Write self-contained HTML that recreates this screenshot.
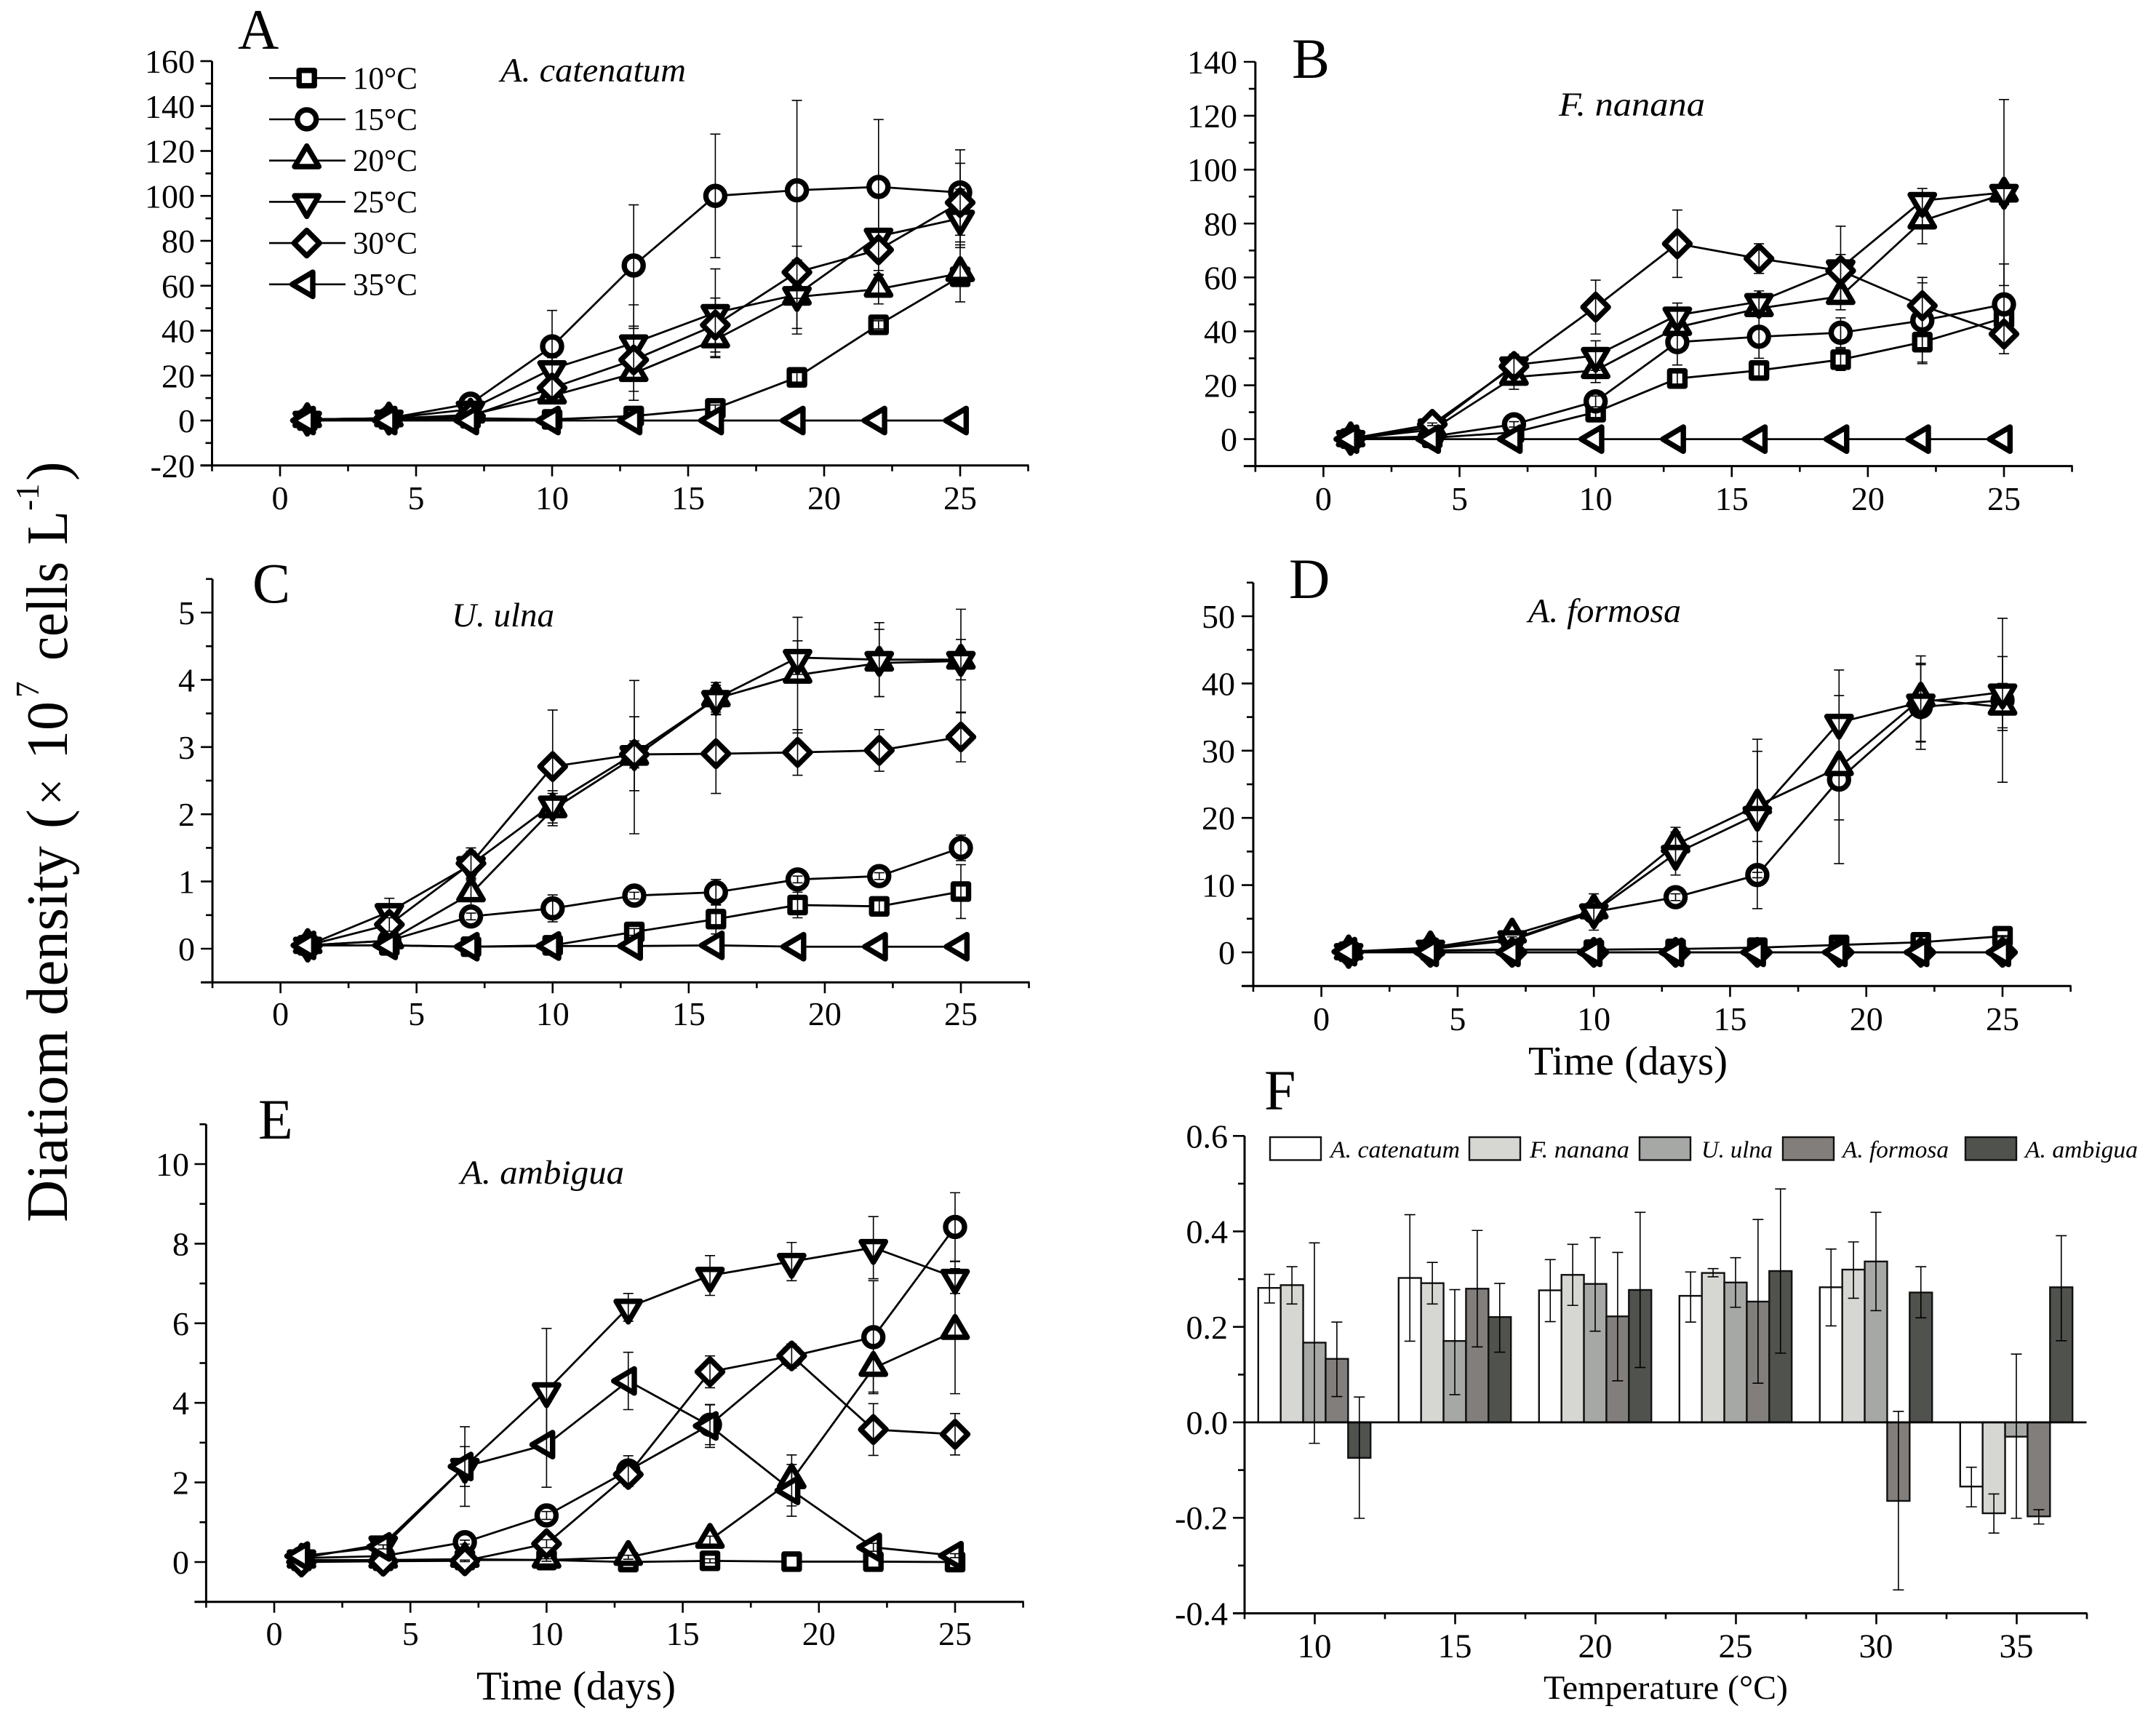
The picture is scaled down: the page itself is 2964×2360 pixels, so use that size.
<!DOCTYPE html>
<html lang="en">
<head>
<meta charset="utf-8">
<title>Diatom density and growth by temperature</title>
<style>
html,body{margin:0;padding:0;background:#fff;width:2964px;height:2360px;overflow:hidden}
svg{display:block;font-family:"Liberation Serif",serif;fill:#000}
text{fill:#000}
</style>
</head>
<body>
<svg id="chart" xmlns="http://www.w3.org/2000/svg" width="2964" height="2360" viewBox="0 0 2964 2360">
  <rect x="0" y="0" width="2964" height="2360" fill="#fff"/>
  <g transform="translate(92,1680) rotate(-90)" font-size="80">
    <text x="0" y="0" textLength="517" lengthAdjust="spacingAndGlyphs">Diatiom density</text>
    <text x="541" y="0">(</text>
    <text x="573" y="0" font-size="66">×</text>
    <text x="636" y="0">10</text>
    <text x="721" y="-39" font-size="45">7</text>
    <text x="772" y="0" textLength="136" lengthAdjust="spacingAndGlyphs">cells</text>
    <text x="931" y="0" textLength="47" lengthAdjust="spacingAndGlyphs">L</text>
    <text x="978" y="-39" font-size="45">-1</text>
    <text x="1019" y="0">)</text>
  </g>
</svg>
<script>
const days = [1, 4, 7, 10, 13, 16, 19, 22, 25];
const temperatureLabels = ['10°C', '15°C', '20°C', '25°C', '30°C', '35°C'];
const xTickLabels = [0, 5, 10, 15, 20, 25];

const yTicksA = [-20, 0, 20, 40, 60, 80, 100, 120, 140, 160];
const a10 = [0, 0.5, 1, 0.5, 2, 5.4, 19.2, 42.6, 64];
const a15 = [0.5, 1, 7.5, 33, 69, 100, 102.5, 104, 101.5];
const a20 = [0.5, 0.8, 2.5, 11, 21, 36, 55, 58.5, 65.5];
const a25 = [0.5, 1, 5, 23, 34.5, 48, 56, 82, 90];
const a30 = [0.5, 1, 2, 14.5, 27, 42.5, 66, 76, 97];
const a35 = [0, 0, 0, 0, 0, 0, 0, 0, 0];
const aErr10 = [0, 0, 0, 1, 1, 1.5, 2.1, 1.8, 2];
const aErr15 = [0, 0, 1, 16, 27, 27.5, 40, 30, 19];
const aErr20 = [0, 0, 0.5, 3, 12, 8, 16.5, 6.6, 12.7];
const aErr25 = [0, 0, 1, 5, 17, 19.5, 15, 17.3, 13];
const aErr30 = [0, 0, 0.5, 4, 14, 12, 11.6, 9.2, 17.5];
const aErr35 = [0, 0, 0, 0, 0, 0, 0, 0, 0];

const yTicksB = [0, 20, 40, 60, 80, 100, 120, 140];
const b10 = [0.2, 0.5, 2.5, 10, 22.5, 25.5, 29.5, 36, 45];
const b15 = [0.2, 1, 5.5, 14, 36, 38, 39.5, 44, 50];
const b20 = [0.2, 3.5, 23, 25.5, 41.5, 48.5, 53, 81, 91];
const b25 = [0.2, 4.5, 27.5, 31, 46, 51, 63.5, 88.5, 91.5];
const b30 = [0.2, 5.5, 27, 49, 72.5, 67, 62.5, 49.5, 39];
const b35 = [0, 0, 0, 0, 0, 0, 0, 0, 0];
const bErr10 = [0, 0, 0.5, 2, 3, 3, 4, 7.4, 2];
const bErr15 = [0, 0.5, 1, 2, 8.5, 8, 5.5, 16, 15];
const bErr20 = [0, 0.5, 4.5, 4.5, 3, 3, 3, 8.5, 4];
const bErr25 = [0, 0.5, 4, 5.5, 4.5, 4, 15.5, 4.5, 34.5];
const bErr30 = [0, 0.5, 3, 10, 12.5, 5.5, 6, 8.5, 7.3];
const bErr35 = [0, 0, 0, 0, 0, 0, 0, 0, 0];

const yTicksC = [0, 1, 2, 3, 4, 5];
const c10 = [0.05, 0.05, 0.03, 0.05, 0.25, 0.44, 0.65, 0.63, 0.85];
const c15 = [0.05, 0.12, 0.48, 0.6, 0.79, 0.84, 1.03, 1.08, 1.5];
const c20 = [0.05, 0.12, 0.82, 2.07, 2.85, 3.72, 4.07, 4.25, 4.28];
const c25 = [0.05, 0.55, 1.25, 2.15, 2.9, 3.72, 4.33, 4.3, 4.3];
const c30 = [0.05, 0.36, 1.27, 2.71, 2.89, 2.9, 2.92, 2.95, 3.15];
const c35 = [0.05, 0.05, 0.03, 0.04, 0.04, 0.05, 0.03, 0.03, 0.03];
const cErr10 = [0, 0, 0.02, 0.03, 0.05, 0.22, 0.19, 0.1, 0.4];
const cErr15 = [0, 0.03, 0.05, 0.2, 0.05, 0.19, 0.05, 0.05, 0.19];
const cErr20 = [0, 0.03, 0.2, 0.24, 1.14, 0.2, 0.86, 0.5, 0.77];
const cErr25 = [0, 0.2, 0.2, 0.2, 0.55, 0.24, 0.25, 0.55, 0.3];
const cErr30 = [0, 0.1, 0.23, 0.84, 0.2, 0.59, 0.34, 0.31, 0.37];
const cErr35 = [0, 0, 0, 0, 0, 0, 0, 0, 0];

const yTicksD = [0, 10, 20, 30, 40, 50];
const d10 = [0.1, 0.3, 0.4, 0.4, 0.5, 0.7, 1.1, 1.5, 2.4];
const d15 = [0.1, 0.5, 1.8, 6, 8.2, 11.5, 25.7, 36.5, 37.5];
const d20 = [0.1, 0.7, 2.6, 6.2, 16, 21.8, 27.5, 37.7, 36.5];
const d25 = [0.1, 0.6, 2, 6, 14.7, 20.5, 34.2, 37.2, 38.7];
const d30 = [0, 0, 0, 0, 0, 0, 0, 0, 0];
const d35 = [0.1, 0, 0, 0, 0, 0, 0, 0, 0];
const dErr10 = [0, 0, 0, 0.1, 0.1, 0.1, 0.1, 0.1, 0.1];
const dErr15 = [0, 0.1, 0.3, 0.5, 0.5, 5, 12.5, 6.3, 12.2];
const dErr20 = [0, 0.1, 0.3, 0.5, 2.6, 9.9, 7.8, 6.4, 3.5];
const dErr25 = [0, 0.1, 0.3, 2.7, 3.2, 9.4, 7.8, 5.8, 5.3];
const dErr30 = [0, 0, 0, 0, 0, 0, 0, 0, 0];
const dErr35 = [0, 0, 0, 0, 0, 0, 0, 0, 0];

const yTicksE = [0, 2, 4, 6, 8, 10];
const e10 = [0.03, 0.03, 0.05, 0.05, 0, 0.03, 0.01, 0.01, 0];
const e15 = [0.1, 0.15, 0.5, 1.17, 2.3, 3.45, 5.17, 5.65, 8.42];
const e20 = [0.05, 0.05, 0.07, 0.05, 0.12, 0.55, 2.05, 4.87, 5.8];
const e25 = [0.1, 0.45, 2.4, 4.3, 6.4, 7.2, 7.55, 7.9, 7.15];
const e30 = [0, 0.02, 0.03, 0.46, 2.2, 4.78, 5.18, 3.33, 3.21];
const e35 = [0.15, 0.38, 2.4, 2.95, 4.55, 3.42, 1.8, 0.37, 0.16];
const eErr10 = [0, 0, 0, 0.2, 0.05, 0.05, 0, 0, 0];
const eErr15 = [0, 0.02, 0.05, 0.1, 0.37, 0.5, 0.3, 1.42, 0.86];
const eErr20 = [0, 0, 0, 0.03, 0.05, 0.1, 0.64, 0.6, 1.57];
const eErr25 = [0, 0.05, 1, 1.57, 0.35, 0.5, 0.48, 0.78, 0.4];
const eErr30 = [0, 0, 0.02, 0.1, 0.3, 0.4, 0.3, 0.65, 0.52];
const eErr35 = [0, 0.05, 0.5, 1.07, 0.72, 0.54, 0.65, 0.1, 0.05];

const barTemperatures = [10, 15, 20, 25, 30, 35];
const barSpecies = ['A. catenatum', 'F. nanana', 'U. ulna', 'A. formosa', 'A. ambigua'];
const yTicksF = ['-0.4', '-0.2', '0.0', '0.2', '0.4', '0.6'];
const catenatumBars = [0.2816, 0.3025, 0.2766, 0.265, 0.283, -0.1345];
const catenatumHigh = [0.31, 0.435, 0.341, 0.315, 0.363, -0.094];
const catenatumLow = [0.25, 0.17, 0.211, 0.21, 0.202, -0.177];
const nananaBars = [0.2875, 0.2916, 0.309, 0.313, 0.32, -0.1905];
const nananaHigh = [0.326, 0.335, 0.373, 0.322, 0.378, -0.15];
const nananaLow = [0.248, 0.248, 0.245, 0.305, 0.26, -0.232];
const ulnaBars = [0.167, 0.1705, 0.29, 0.293, 0.337, -0.03];
const ulnaHigh = [0.376, 0.278, 0.387, 0.345, 0.44, 0.143];
const ulnaLow = [-0.044, 0.058, 0.191, 0.241, 0.234, -0.201];
const formosaBars = [0.133, 0.28, 0.222, 0.253, -0.1646, -0.197];
const formosaHigh = [0.21, 0.402, 0.356, 0.425, 0.023, -0.183];
const formosaLow = [0.054, 0.158, 0.087, 0.082, -0.351, -0.213];
const ambiguaBars = [-0.0744, 0.2206, 0.2774, 0.317, 0.272, 0.283];
const ambiguaHigh = [0.053, 0.291, 0.44, 0.489, 0.326, 0.391];
const ambiguaLow = [-0.201, 0.147, 0.115, 0.145, 0.219, 0.171];

const NS = 'http://www.w3.org/2000/svg';
const root = document.getElementById('chart');

function add(tag, attrs, parent, txt) {
  const node = document.createElementNS(NS, tag);
  for (const k in attrs) node.setAttribute(k, attrs[k]);
  if (txt !== undefined) node.textContent = txt;
  (parent || root).appendChild(node);
  return node;
}

function markerPath(kind) {
  if (kind === 0) return 'M-10.5 -10.5H10.5V10.5H-10.5Z';
  if (kind === 1) return 'M-13 0A13 13 0 1 0 13 0A13 13 0 1 0 -13 0Z';
  if (kind === 2) return 'M0 -20L16.7 8.3H-16.7Z';
  if (kind === 3) return 'M0 20L16.7 -8.3H-16.7Z';
  if (kind === 4) return 'M0 -17.5L17.5 0L0 17.5L-17.5 0Z';
  return 'M-20 0L8.3 -16.7V16.7Z';
}

function drawMarker(kind, cx, cy, scale, parent) {
  return add('path', {
    d: markerPath(kind),
    transform: 'translate(' + cx + ',' + cy + ') scale(' + scale + ')',
    fill: '#fff', stroke: '#000', 'stroke-width': 7.4, 'stroke-linejoin': 'round'
  }, parent);
}

function drawFrame(g, p, yLabels, yMinorStep) {
  const yAxis = add('line', {x1: p.left, x2: p.left, y1: p.py(p.yMin), y2: p.py(p.yMax), stroke: '#000', 'stroke-width': 3}, g);
  
  
  const xAxis = add('line', {x1: p.left - 16, x2: p.right + 1, y1: p.py(p.yMin), y2: p.py(p.yMin), stroke: '#000', 'stroke-width': 3}, g);
  
  
  const count = Math.round((p.yMax - p.yMin) / yMinorStep);
  for (let i = 0; i <= count; i++) {
    const v = p.yMin + i * yMinorStep;
    const isMajor = yLabels.some(function (t) { return Math.abs(Number(t) - v) < 1e-6; });
    const tick = add('line', {x1: p.left - (isMajor ? 16 : 9), x2: p.left, y1: p.py(v), y2: p.py(v), stroke: '#000', 'stroke-width': 2.6}, g);
    
    
  }
  yLabels.forEach(function (t) {
    const label = add('text', {x: p.labelRight, y: p.py(Number(t)) + 16, 'font-size': 46, 'text-anchor': 'end'}, g, String(t));
    
    
  });
}

function drawLinePanel(cfg) {
  const g = add('g', {});
  
  
  const ux = (cfg.x25 - cfg.x0) / 25;
  const px = function (d) { return cfg.x0 + d * ux; };
  const uy = (cfg.yZero - cfg.yTopTick) / cfg.topTickValue;
  const py = function (v) { return cfg.yZero - v * uy; };
  const p = {left: px(-2.5), right: px(27.5), py: py, yMin: cfg.yMin, yMax: cfg.yMax, labelRight: cfg.labelRight};
  drawFrame(g, p, cfg.yTicks, cfg.yMinor);
  for (let i = 0; i <= 12; i++) {
    const d = -2.5 + i * 2.5;
    const major = i % 2 === 1;
    const tick = add('line', {x1: px(d), x2: px(d), y1: py(cfg.yMin), y2: py(cfg.yMin) + (major ? 15 : 8), stroke: '#000', 'stroke-width': 2.6}, g);
    
    
  }
  xTickLabels.forEach(function (t) {
    const label = add('text', {x: px(t), y: cfg.xLabelY, 'font-size': 46, 'text-anchor': 'middle'}, g, String(t));
    
    
  });
  const letter = add('text', {x: cfg.letterX, y: cfg.letterY, 'font-size': 78}, g, cfg.letter);
  
  
  const title = add('text', {x: cfg.titleX, y: cfg.titleY, 'font-size': 47, 'font-style': 'italic', textLength: cfg.titleW, lengthAdjust: 'spacingAndGlyphs'}, g, cfg.title);
  
  

  cfg.values.forEach(function (series, s) {
    const sg = add('g', {}, g);
    
    
    const pts = series.map(function (v, i) { return px(days[i]) + ',' + py(v); }).join(' ');
    const line = add('polyline', {points: pts, fill: 'none', stroke: '#000', 'stroke-width': 2.8}, sg);
    
    
    series.forEach(function (v, i) {
      const mark = drawMarker(s, px(days[i]), py(v), 1, sg);
      
      
    });
    series.forEach(function (v, i) {
      const err = cfg.errors[s][i];
      if (!err) return;
      const x = px(days[i]);
      const d = 'M' + x + ' ' + py(v + err) + 'V' + py(v - err) +
        'M' + (x - 7) + ' ' + py(v + err) + 'H' + (x + 7) +
        'M' + (x - 7) + ' ' + py(v - err) + 'H' + (x + 7);
      const bar = add('path', {d: d, fill: 'none', stroke: '#000', 'stroke-width': 1.6}, sg);
      
      
    });
  });
  return g;
}

drawLinePanel({id: 'a', letter: 'A', letterX: 327, letterY: 67, title: 'A. catenatum', titleX: 688, titleY: 112, titleW: 255,
  x0: 385, x25: 1320, yZero: 578, yTopTick: 84, topTickValue: 160, yMin: -20, yMax: 160, yMinor: 10, yTicks: yTicksA, labelRight: 268, xLabelY: 700,
  values: [a10, a15, a20, a25, a30, a35], errors: [aErr10, aErr15, aErr20, aErr25, aErr30, aErr35]});
drawLinePanel({id: 'b', letter: 'B', letterX: 1776, letterY: 107, title: 'F. nanana', titleX: 2143, titleY: 159, titleW: 201,
  x0: 1819.4, x25: 2755, yZero: 603.6, yTopTick: 85, topTickValue: 140, yMin: -10, yMax: 140, yMinor: 10, yTicks: yTicksB, labelRight: 1701, xLabelY: 701,
  values: [b10, b15, b20, b25, b30, b35], errors: [bErr10, bErr15, bErr20, bErr25, bErr30, bErr35]});
drawLinePanel({id: 'c', letter: 'C', letterX: 347, letterY: 828, title: 'U. ulna', titleX: 621, titleY: 861, titleW: 141,
  x0: 385.6, x25: 1321, yZero: 1304, yTopTick: 842, topTickValue: 5, yMin: -0.5, yMax: 5.5, yMinor: 0.5, yTicks: yTicksC, labelRight: 268, xLabelY: 1409,
  values: [c10, c15, c20, c25, c30, c35], errors: [cErr10, cErr15, cErr20, cErr25, cErr30, cErr35]});
drawLinePanel({id: 'd', letter: 'D', letterX: 1772, letterY: 822, title: 'A. formosa', titleX: 2101, titleY: 855, titleW: 210,
  x0: 1816.6, x25: 2753, yZero: 1309, yTopTick: 847, topTickValue: 50, yMin: -5, yMax: 55, yMinor: 5, yTicks: yTicksD, labelRight: 1698, xLabelY: 1416,
  values: [d10, d15, d20, d25, d30, d35], errors: [dErr10, dErr15, dErr20, dErr25, dErr30, dErr35]});
drawLinePanel({id: 'e', letter: 'E', letterX: 355, letterY: 1565, title: 'A. ambigua', titleX: 633, titleY: 1627, titleW: 225,
  x0: 377, x25: 1313, yZero: 2147, yTopTick: 1600, topTickValue: 10, yMin: -1, yMax: 11, yMinor: 1, yTicks: yTicksE, labelRight: 260, xLabelY: 2261,
  values: [e10, e15, e20, e25, e30, e35], errors: [eErr10, eErr15, eErr20, eErr25, eErr30, eErr35]});

/* Temperature legend in panel A */
const tempLegend = add('g', {});


temperatureLabels.forEach(function (label, i) {
  const rowY = 107.3 + i * 56.7;
  const row = add('g', {}, tempLegend);
  
  
  const sample = add('line', {x1: 370, x2: 475, y1: rowY, y2: rowY, stroke: '#000', 'stroke-width': 2.6}, row);
  
  
  const glyph = drawMarker(i, 421.7, rowY, 1, row);
  
  
  const txt = add('text', {x: 485, y: rowY + 14.5, 'font-size': 43}, row, label);
  
  
});

/* Shared x-axis titles */
const timeTitleD = add('text', {x: 2101, y: 1477, 'font-size': 56, textLength: 274, lengthAdjust: 'spacingAndGlyphs'}, root, 'Time (days)');


const timeTitleE = add('text', {x: 655, y: 2336, 'font-size': 56, textLength: 274, lengthAdjust: 'spacingAndGlyphs'}, root, 'Time (days)');



/* Panel F: bars */
(function drawBars() {
  const g = add('g', {});
  
  
  const catStep = 193;
  const x10 = 1807;
  const barW = catStep * 0.8 / 5;
  const cx = function (c) { return x10 + c * catStep; };
  const py = function (v) { return 1955 - v * 656.1; };
  const fills = ['#ffffff', '#d6d7d2', '#a6a8a5', '#827e7c', '#50524d'];
  const barSets = [catenatumBars, nananaBars, ulnaBars, formosaBars, ambiguaBars];
  const highSets = [catenatumHigh, nananaHigh, ulnaHigh, formosaHigh, ambiguaHigh];
  const lowSets = [catenatumLow, nananaLow, ulnaLow, formosaLow, ambiguaLow];
  const p = {left: 1711, right: 2868.5, py: py, yMin: -0.4, yMax: 0.6, labelRight: 1688};
  drawFrame(g, p, yTicksF, 0.1);
  for (let i = 0; i <= 12; i++) {
    const x = 1711 + i * catStep / 2;
    const major = i % 2 === 1;
    const tick = add('line', {x1: x, x2: x, y1: py(-0.4), y2: py(-0.4) + (major ? 15 : 8), stroke: '#000', 'stroke-width': 2.6}, g);
    
    
  }
  barTemperatures.forEach(function (t, c) {
    const label = add('text', {x: cx(c), y: 2278, 'font-size': 47, 'text-anchor': 'middle'}, g, String(t));
    
    
  });
  const letter = add('text', {x: 1738, y: 1525, 'font-size': 78}, g, 'F');
  
  
  const axisTitle = add('text', {x: 2122, y: 2335, 'font-size': 47, textLength: 336, lengthAdjust: 'spacingAndGlyphs'}, g, 'Temperature (°C)');
  
  

  barSets.forEach(function (set, s) {
    set.forEach(function (v, c) {
      const left = cx(c) + (s - 2.5) * barW;
      const rect = add('rect', {x: left, y: Math.min(py(v), py(0)), width: barW, height: Math.abs(py(v) - py(0)), fill: fills[s], stroke: '#111', 'stroke-width': 2.4}, g);
      
      
    });
  });
  const zero = add('line', {x1: 1711, x2: 2868.5, y1: py(0), y2: py(0), stroke: '#000', 'stroke-width': 2.8}, g);
  
  
  barSets.forEach(function (set, s) {
    set.forEach(function (v, c) {
      const x = cx(c) + (s - 2) * barW;
      const hi = py(highSets[s][c]);
      const lo = py(lowSets[s][c]);
      const d = 'M' + x + ' ' + hi + 'V' + lo + 'M' + (x - 7.5) + ' ' + hi + 'H' + (x + 7.5) + 'M' + (x - 7.5) + ' ' + lo + 'H' + (x + 7.5);
      const bar = add('path', {d: d, fill: 'none', stroke: '#000', 'stroke-width': 1.6}, g);
      
      
    });
  });

  const swatchX = [1746, 2020, 2254, 2451, 2702];
  const labelX = [1829, 2103, 2339, 2533, 2784];
  const labelW = [178, 137, 98, 146, 155];
  barSpecies.forEach(function (name, s) {
    const entry = add('g', {}, g);
    
    
    const sw = add('rect', {x: swatchX[s], y: 1563, width: 70, height: 31.5, fill: fills[s], stroke: '#111', 'stroke-width': 2.4}, entry);
    
    
    const lb = add('text', {x: labelX[s], y: 1591, 'font-size': 33, 'font-style': 'italic', textLength: labelW[s], lengthAdjust: 'spacingAndGlyphs'}, entry, name);
    
    
  });
})();
</script>
</body>
</html>
